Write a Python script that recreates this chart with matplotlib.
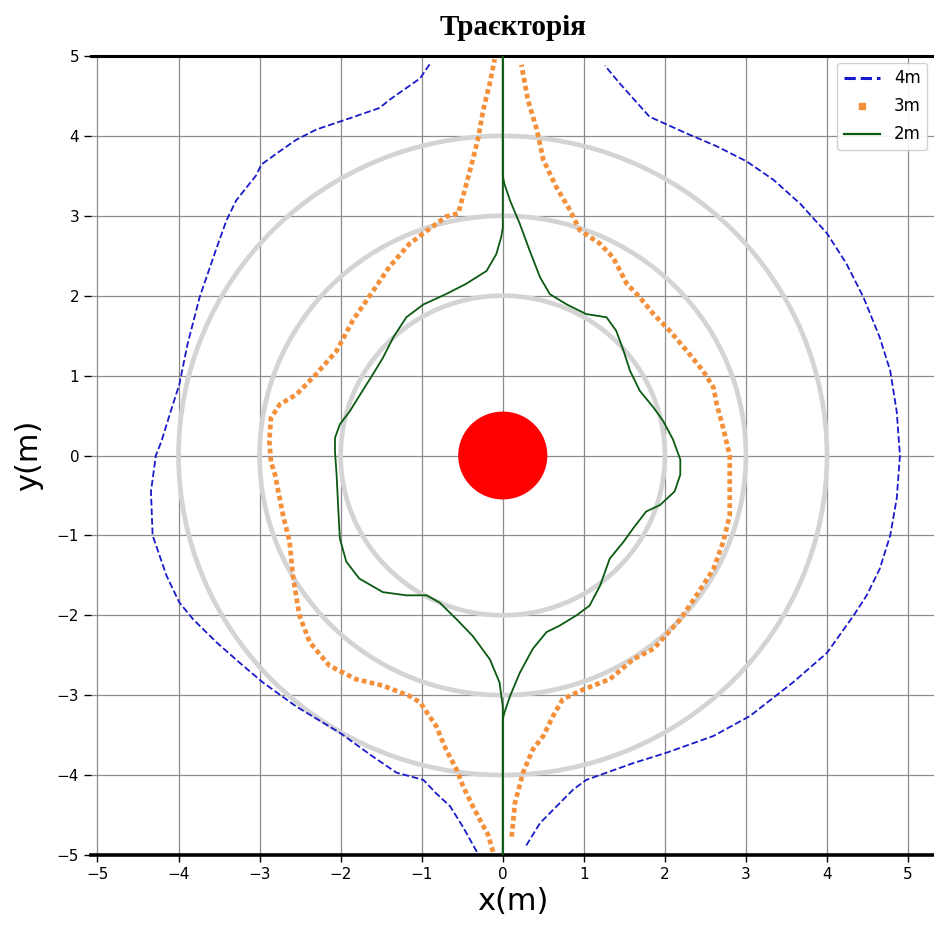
import matplotlib
matplotlib.use("Agg")
import matplotlib.pyplot as plt
from matplotlib.patches import Circle
from matplotlib.lines import Line2D

# ---- data ----
obstacle_rings = [2, 3, 4]
obstacle_center = (0.0, 0.0)
obstacle_radius = 0.55

blue_left_x = [-0.32, -0.49, -0.65, -0.82, -0.98, -1.31, -1.60, -2.01, -2.55, -2.96, -3.25, -3.53, -3.82, -3.99,
               -4.15, -4.32, -4.34, -4.28, -4.21, -4.11, -3.99, -3.89, -3.74, -3.54, -3.41, -3.29, -3.04, -2.98,
               -2.79, -2.55, -2.30, -1.89, -1.52, -1.40, -1.02, -0.90]
blue_left_y = [-4.96, -4.65, -4.39, -4.23, -4.06, -3.97, -3.77, -3.47, -3.14, -2.84, -2.59, -2.34, -2.05, -1.84,
               -1.50, -1.00, -0.45, 0.00, 0.18, 0.51, 0.89, 1.39, 1.98, 2.57, 2.94, 3.19, 3.51, 3.64,
               3.78, 3.95, 4.08, 4.22, 4.35, 4.45, 4.72, 4.90]
blue_right_x = [0.29, 0.46, 0.87, 1.03, 1.61, 2.02, 2.60, 3.05, 3.58, 4.00, 4.33, 4.49, 4.65, 4.78, 4.86, 4.90,
                4.86, 4.78, 4.65, 4.45, 4.24, 4.00, 3.67, 3.34, 3.01, 2.64, 2.27, 1.81, 1.44, 1.26]
blue_right_y = [-4.88, -4.60, -4.18, -4.06, -3.85, -3.72, -3.51, -3.26, -2.84, -2.47, -2.00, -1.75, -1.42, -1.00,
                -0.54, 0.00, 0.55, 1.06, 1.48, 1.98, 2.40, 2.78, 3.15, 3.45, 3.68, 3.87, 4.03, 4.24, 4.66, 4.88]

orange_left_x = [-0.12, -0.18, -0.26, -0.37, -0.49, -0.57, -0.70, -0.82, -1.02, -1.15, -1.48, -1.81, -2.14, -2.38,
                 -2.51, -2.59, -2.63, -2.71, -2.81, -2.86, -2.88, -2.86, -2.75, -2.55, -2.30, -2.05, -1.85, -1.60,
                 -1.40, -1.15, -0.98, -0.70, -0.55, -0.47, -0.37, -0.30, -0.24, -0.16, -0.10]
orange_left_y = [-4.96, -4.75, -4.60, -4.39, -4.14, -3.93, -3.68, -3.39, -3.09, -3.01, -2.88, -2.80, -2.63, -2.34,
                 -2.00, -1.50, -1.08, -0.75, -0.24, -0.08, 0.18, 0.47, 0.64, 0.76, 1.02, 1.31, 1.69, 2.06,
                 2.36, 2.65, 2.78, 2.99, 3.03, 3.32, 3.70, 3.99, 4.33, 4.66, 4.96]
orange_right_x = [0.11, 0.15, 0.25, 0.37, 0.50, 0.62, 0.74, 0.99, 1.32, 1.61, 1.86, 2.19, 2.39, 2.60, 2.72, 2.80,
                  2.80, 2.80, 2.72, 2.64, 2.60, 2.47, 2.27, 2.06, 1.86, 1.69, 1.53, 1.36, 1.20, 0.95, 0.83, 0.66,
                  0.50, 0.42, 0.31, 0.23]
orange_right_y = [-4.77, -4.35, -3.97, -3.68, -3.51, -3.26, -3.05, -2.93, -2.80, -2.55, -2.42, -2.05, -1.75, -1.42,
                  -1.08, -0.75, -0.33, 0.00, 0.34, 0.64, 0.85, 1.06, 1.31, 1.56, 1.77, 1.98, 2.15, 2.48, 2.65, 2.82,
                  3.07, 3.36, 3.70, 4.08, 4.45, 4.89]

green_left_x = [0.0, 0.0, -0.04, -0.16, -0.37, -0.57, -0.78, -0.94, -1.19, -1.48, -1.77, -1.93, -2.01, -2.03, -2.05,
                -2.07, -2.07, -2.01, -1.89, -1.73, -1.60, -1.48, -1.35, -1.19, -0.98, -0.70, -0.45, -0.20, -0.08,
                -0.02, 0.0, 0.0]
green_left_y = [-5.0, -3.14, -2.84, -2.55, -2.26, -2.05, -1.84, -1.75, -1.75, -1.71, -1.54, -1.33, -1.04, -0.66,
                -0.24, 0.05, 0.22, 0.39, 0.55, 0.81, 1.02, 1.22, 1.48, 1.73, 1.89, 2.02, 2.15, 2.31, 2.52, 2.73,
                2.85, 5.0]
green_right_x = [0.0, 0.0, 0.02, 0.09, 0.21, 0.37, 0.54, 0.70, 0.91, 1.07, 1.20, 1.32, 1.49, 1.61, 1.77, 1.94, 2.12,
                 2.19, 2.19, 2.10, 1.98, 1.86, 1.69, 1.57, 1.49, 1.40, 1.28, 1.03, 0.79, 0.58, 0.46, 0.33, 0.21,
                 0.09, 0.02, 0.0, 0.0]
green_right_y = [-5.0, -3.30, -3.22, -3.01, -2.72, -2.42, -2.21, -2.13, -2.00, -1.88, -1.63, -1.29, -1.08, -0.91,
                 -0.70, -0.62, -0.45, -0.24, -0.05, 0.20, 0.43, 0.60, 0.81, 1.06, 1.31, 1.56, 1.73, 1.77, 1.89, 2.02,
                 2.23, 2.57, 2.90, 3.19, 3.40, 3.50, 5.0]

labels = ["4m", "3m", "2m"]
ticks = [-5, -4, -3, -2, -1, 0, 1, 2, 3, 4, 5]

# ---- figure ----
fig = plt.figure(figsize=(9.34, 9.32), dpi=100)
ax = fig.add_axes([91 / 934, 77 / 932, 843 / 934, 799 / 932])
ax.set_xlim(-5.08, 5.32)
ax.set_ylim(-5, 5)

ax.grid(True, color="0.55", linewidth=0.9)
ax.set_axisbelow(True)

for r in obstacle_rings:
    ax.add_patch(Circle(obstacle_center, r, fill=False, edgecolor="#d4d4d4", linewidth=3.4, zorder=1.5))
ax.add_patch(Circle(obstacle_center, obstacle_radius, facecolor="#ff0000", edgecolor="none", zorder=2))

blue = "#1a1acd"
orange = "#f5903a"
green = "#0b5a12"

ax.plot(blue_left_x, blue_left_y, color=blue, ls="--", lw=1.3, zorder=3)
ax.plot(blue_right_x, blue_right_y, color=blue, ls="--", lw=1.3, zorder=3)
ax.plot(orange_left_x, orange_left_y, color=orange, ls=(0, (1, 0.7)), lw=3.4,
        dash_capstyle="butt", zorder=3)
ax.plot(orange_right_x, orange_right_y, color=orange, ls=(0, (1, 0.7)), lw=3.4,
        dash_capstyle="butt", zorder=3)
ax.plot(green_left_x, green_left_y, color=green, lw=1.3, zorder=4)
ax.plot(green_right_x, green_right_y, color=green, lw=1.3, zorder=4)

h4 = Line2D([], [], color=blue, ls="--", lw=2.2)
h3 = Line2D([], [], color=orange, marker="s", ms=4, ls="none")
h2 = Line2D([], [], color=green, lw=1.6)
ax.legend([h4, h3, h2], labels, loc="upper right", fontsize=12, framealpha=0.9,
          edgecolor="#cccccc", fancybox=True, handlelength=2.2, labelspacing=0.6,
          borderaxespad=0.4)

ax.set_xticks(ticks)
ax.set_yticks(ticks)
ax.tick_params(labelsize=11, length=5, width=1)
ax.spines["left"].set_visible(False)
ax.spines["right"].set_visible(False)
ax.spines["top"].set_linewidth(2.2)
ax.spines["bottom"].set_linewidth(2.6)

ax.set_xlabel("x(m)", fontsize=22, labelpad=4)
ax.set_ylabel("y(m)", fontsize=22, labelpad=10)
ax.set_title("Траєкторія", fontsize=21, fontweight="bold", family="Liberation Serif", pad=15)

fig.savefig("out.png", dpi=100)
